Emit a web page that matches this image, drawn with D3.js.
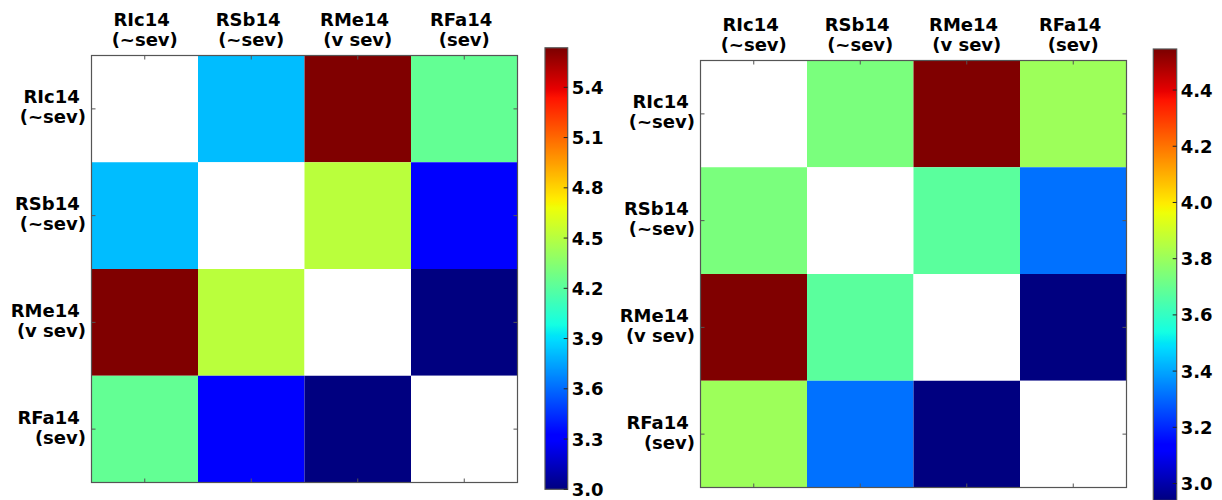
<!DOCTYPE html>
<html>
<head>
<meta charset="utf-8">
<script src="https://cdn.jsdelivr.net/npm/d3@7"></script>
<style>
  html, body { margin: 0; padding: 0; background: #fff; }
  svg { display: block; }
  text { font-family: "DejaVu Sans", sans-serif; font-weight: bold; fill: #000; }
</style>
</head>
<body>
<svg id="chart" width="1222" height="500"></svg>
<script>
// Sample names and their severity notes
const sampleNames = ["RIc14", "RSb14", "RMe14", "RFa14"];
const severityNotes = ["(~sev)", "(~sev)", "(v sev)", "(sev)"];

// Pairwise distances, first matrix (diagonal left empty)
const leftRowRIc = [null, 3.82, 5.636, 4.24];
const leftRowRSb = [3.82, null, 4.52, 3.32];
const leftRowRMe = [5.636, 4.52, null, 3.0];
const leftRowRFa = [4.24, 3.32, 3.0, null];

// Pairwise distances, second matrix (diagonal left empty)
const rightRowRIc = [null, 3.74, 4.546, 3.81];
const rightRowRSb = [3.74, null, 3.68, 3.32];
const rightRowRMe = [4.546, 3.68, null, 2.94];
const rightRowRFa = [3.81, 3.32, 2.94, null];

// Colour bar tick labels
const leftTicks = [3.0, 3.3, 3.6, 3.9, 4.2, 4.5, 4.8, 5.1, 5.4];
const rightTicks = [3.0, 3.2, 3.4, 3.6, 3.8, 4.0, 4.2, 4.4];

// matplotlib "jet" colormap segments
const jetR = [[0, 0], [0.35, 0], [0.66, 1], [0.89, 1], [1, 0.5]];
const jetG = [[0, 0], [0.125, 0], [0.375, 1], [0.64, 1], [0.91, 0], [1, 0]];
const jetB = [[0, 0.5], [0.11, 1], [0.34, 1], [0.65, 0], [1, 0]];
function seg(s, t) {
  for (let i = 0; i < s.length - 1; i++) {
    if (t >= s[i][0] && t <= s[i + 1][0]) {
      const f = (t - s[i][0]) / (s[i + 1][0] - s[i][0] || 1);
      return s[i][1] + f * (s[i + 1][1] - s[i][1]);
    }
  }
  return s[s.length - 1][1];
}
function jet(t) {
  t = Math.max(0, Math.min(1, t));
  // 256-entry lookup like the original colormap
  const k = Math.min(255, Math.floor(t * 256)) / 255;
  return d3.rgb(seg(jetR, k) * 255, seg(jetG, k) * 255, seg(jetB, k) * 255).formatHex();
}

const svg = d3.select("#chart");
const FS = 18;
const SPACE = 0.348 * FS;   // width of the trailing space after each sample name
const LINE = 20;
const frameColor = "#555";

const panels = [
  { id: "L", rows: [leftRowRIc, leftRowRSb, leftRowRMe, leftRowRFa], ticks: leftTicks,
    ax: { x: 91.5, y: 55.5, w: 426, h: 427 },
    cb: { x: 545, y: 47.8, w: 22.7, bottom: 489.3 } },
  { id: "R", rows: [rightRowRIc, rightRowRSb, rightRowRMe, rightRowRFa], ticks: rightTicks,
    ax: { x: 700.5, y: 60.5, w: 426, h: 427 },
    cb: { x: 1153.3, y: 49, w: 23.4, bottom: 500.4 } }
];

const defs = svg.append("defs");

panels.forEach(p => {
  const values = p.rows.flat().filter(v => v != null);
  const [vmin, vmax] = d3.extent(values);
  const color = v => jet((v - vmin) / (vmax - vmin));

  const x = d3.scaleBand().domain(d3.range(sampleNames.length)).range([p.ax.x, p.ax.x + p.ax.w]);
  const y = d3.scaleBand().domain(d3.range(sampleNames.length)).range([p.ax.y, p.ax.y + p.ax.h]);

  const g = svg.append("g");

  // heat cells
  const cells = [];
  p.rows.forEach((row, i) => row.forEach((v, j) => cells.push({ i, j, v })));
  g.selectAll("rect.cell").data(cells).join("rect")
    .attr("class", "cell")
    .attr("x", d => x(d.j)).attr("y", d => y(d.i))
    .attr("width", x.bandwidth()).attr("height", y.bandwidth())
    .attr("fill", d => d.v == null ? "#fff" : color(d.v));

  // frame
  g.append("rect")
    .attr("x", p.ax.x).attr("y", p.ax.y).attr("width", p.ax.w).attr("height", p.ax.h)
    .attr("fill", "none").attr("stroke", frameColor).attr("stroke-width", 1.2);

  // inward ticks on all four sides
  const tl = 4;
  d3.range(sampleNames.length).forEach(k => {
    const cx = x(k) + x.bandwidth() / 2;
    const cy = y(k) + y.bandwidth() / 2;
    const t = [
      [cx, p.ax.y, cx, p.ax.y + tl],
      [cx, p.ax.y + p.ax.h, cx, p.ax.y + p.ax.h - tl],
      [p.ax.x, cy, p.ax.x + tl, cy],
      [p.ax.x + p.ax.w, cy, p.ax.x + p.ax.w - tl, cy]
    ];
    t.forEach(s => g.append("line")
      .attr("x1", s[0]).attr("y1", s[1]).attr("x2", s[2]).attr("y2", s[3])
      .attr("stroke", frameColor).attr("stroke-width", 1));
  });

  // column labels above the matrix, each line centred on the column
  sampleNames.forEach((name, k) => {
    const cx = x(k) + x.bandwidth() / 2;
    g.append("text").attr("font-size", FS).attr("text-anchor", "middle")
      .attr("x", cx - SPACE / 2).attr("y", p.ax.y - 9.5 - LINE).text(name);
    g.append("text").attr("font-size", FS).attr("text-anchor", "middle")
      .attr("x", cx).attr("y", p.ax.y - 9.5).text(severityNotes[k]);
  });

  // row labels to the left, right-aligned
  sampleNames.forEach((name, k) => {
    const cy = y(k) + y.bandwidth() / 2;
    const b1 = cy - 5.5;
    g.append("text").attr("font-size", FS).attr("text-anchor", "end")
      .attr("x", p.ax.x - 5.5 - SPACE).attr("y", b1).text(name);
    g.append("text").attr("font-size", FS).attr("text-anchor", "end")
      .attr("x", p.ax.x - 5.5).attr("y", b1 + LINE).text(severityNotes[k]);
  });

  // colour bar
  const cs = d3.scaleLinear().domain([vmin, vmax]).range([p.cb.bottom, p.cb.y]);
  const grad = defs.append("linearGradient").attr("id", "grad" + p.id)
    .attr("x1", 0).attr("y1", 1).attr("x2", 0).attr("y2", 0);
  d3.range(0, 257).forEach(i => {
    const t = i / 256;
    grad.append("stop").attr("offset", t).attr("stop-color", jet(Math.min(t, 0.9999)));
  });
  g.append("rect")
    .attr("x", p.cb.x).attr("y", p.cb.y).attr("width", p.cb.w).attr("height", p.cb.bottom - p.cb.y)
    .attr("fill", `url(#grad${p.id})`).attr("stroke", frameColor).attr("stroke-width", 1.2);

  const right = p.cb.x + p.cb.w;
  p.ticks.forEach(v => {
    const ty = cs(v);
    g.append("line").attr("x1", right).attr("x2", right - 4).attr("y1", ty).attr("y2", ty)
      .attr("stroke", "#222").attr("stroke-width", 1);
    g.append("text").attr("font-size", FS).attr("x", right + 4).attr("y", ty)
      .attr("dominant-baseline", "central").text(d3.format(".1f")(v));
  });
});
</script>
</body>
</html>
